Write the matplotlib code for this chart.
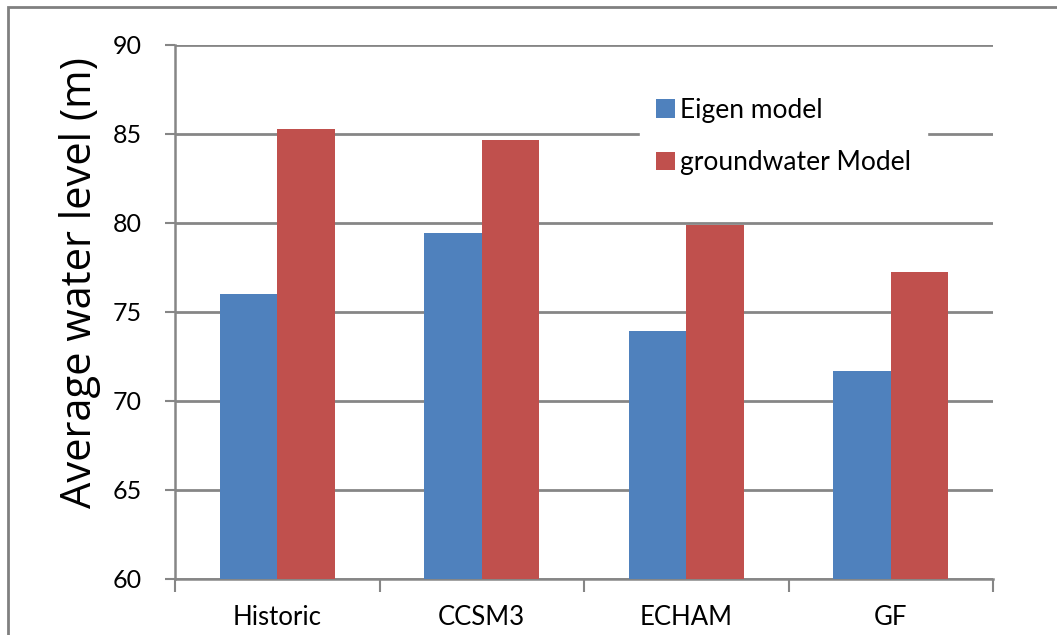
import numpy as np
import matplotlib.pyplot as plt
from matplotlib.patches import Rectangle

# data
categories = ['Historic', 'CCSM3', 'ECHAM', 'GF']
eigen = [76.0, 79.4, 73.9, 71.7]
groundwater = [85.25, 84.65, 79.85, 77.25]
series_names = ['Eigen model', 'groundwater Model']
yticks = [60, 65, 70, 75, 80, 85, 90]

blue = '#4f81bd'
red = '#c0504d'
grey = '#868686'

plt.rcParams['font.family'] = ['Lato', 'DejaVu Sans']

fig = plt.figure(figsize=(10.57, 6.35), dpi=100)
# outer chart frame (top and left edges visible)
fig.patches.append(Rectangle((8 / 1057, -0.1), 1.2, 1 - 7 / 635 + 0.1,
                             transform=fig.transFigure, fill=False,
                             edgecolor='#808080', linewidth=2.0))

ax = fig.add_axes([175 / 1057, 1 - 579 / 635, (993 - 175) / 1057, (579 - 44.5) / 635])

x = np.arange(len(categories))
w = 0.28
ax.bar(x - w / 2, eigen, w, color=blue, label=series_names[0], zorder=3)
ax.bar(x + w / 2, groundwater, w, color=red, label=series_names[1], zorder=3)

ax.set_xlim(-0.5, len(categories) - 0.5)
ax.set_ylim(60, 90)
ax.set_yticks(yticks)
ax.set_yticklabels([str(v) for v in yticks], fontsize=18)
ax.set_xticks(x)
ax.set_xticklabels(categories, fontsize=18.5)
ax.tick_params(axis='x', length=0, pad=19)
ax.tick_params(axis='y', length=7, width=1.5, color=grey, pad=17)

# category separator ticks on x axis
ax.set_xticks(np.arange(len(categories) + 1) - 0.5, minor=True)
ax.tick_params(axis='x', which='minor', length=9, width=1.5, color=grey)

ax.yaxis.grid(True, color=grey, linewidth=2, zorder=0)
ax.set_axisbelow(True)
for s in ['top', 'right']:
    ax.spines[s].set_visible(False)
for s in ['left', 'bottom']:
    ax.spines[s].set_color(grey)
    ax.spines[s].set_linewidth(1.8)

ax.set_ylabel('Average water level (m)', fontsize=30, family=['Open Sans', 'DejaVu Sans'])
ax.yaxis.set_label_coords(-0.090, 0.555)

leg = ax.legend(loc='center left', bbox_to_anchor=(0.5526, 0.828), fontsize=19,
                frameon=True, facecolor='white', edgecolor='white', framealpha=1,
                fancybox=False, handlelength=0.7, handleheight=0.7, handletextpad=0.2,
                labelspacing=1.05, borderpad=0.6)

fig.savefig('out.png', dpi=100, facecolor='white')
